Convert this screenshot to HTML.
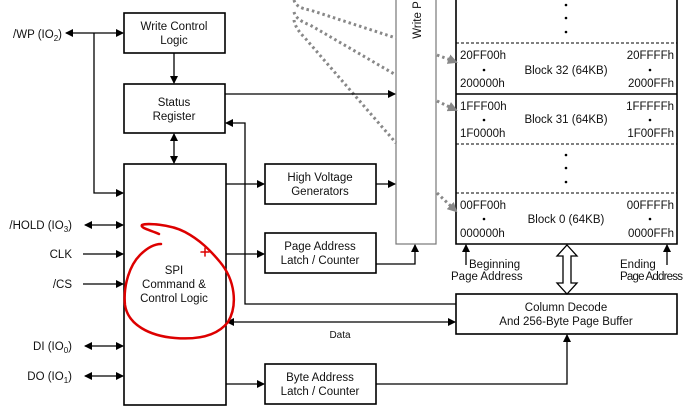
<!DOCTYPE html>
<html><head><meta charset="utf-8"><style>
body{margin:0;background:#fff}
svg{display:block;font-family:"Liberation Sans",Arial,sans-serif}
text{font-size:11.5px;fill:#111}
</style></head><body>
<svg width="687" height="411" viewBox="0 0 687 411" xmlns="http://www.w3.org/2000/svg">
<defs>
<marker id="a" markerWidth="8" markerHeight="8" refX="7" refY="4" orient="auto" markerUnits="userSpaceOnUse"><path d="M0,0 L8,4 L0,8 z" fill="#000"/></marker>
<marker id="s" markerWidth="8" markerHeight="8" refX="1" refY="4" orient="auto" markerUnits="userSpaceOnUse"><path d="M8,0 L0,4 L8,8 z" fill="#000"/></marker>
<marker id="g" markerWidth="10" markerHeight="10" refX="8" refY="5" orient="auto" markerUnits="userSpaceOnUse"><path d="M0,0 L10,5 L0,10 z" fill="#888"/></marker>
</defs>
<g fill="none" stroke="#000" stroke-width="1.6">
<rect x="124" y="13" width="101" height="40"/>
<rect x="124" y="84" width="101" height="49"/>
<rect x="124" y="164" width="102" height="241"/>
<rect x="265" y="164" width="111" height="40"/>
<rect x="265" y="233" width="111" height="40"/>
<rect x="265" y="364" width="111" height="40"/>
<rect x="456" y="294" width="221" height="40"/>
<path d="M456,-2 V244 H677 V-2"/>
<line x1="456" y1="94" x2="677" y2="94"/>
</g>
<rect x="396" y="-2" width="40" height="246" fill="none" stroke="#777" stroke-width="1.2"/>
<g stroke="#000" stroke-width="1" stroke-dasharray="3,2">
<line x1="456" y1="43" x2="677" y2="43"/><line x1="456" y1="144" x2="677" y2="144"/><line x1="456" y1="193" x2="677" y2="193"/>
</g>
<g stroke="#888" stroke-width="3" stroke-dasharray="2.5,3" fill="none">
<path d="M294,0 Q296,8 310,10 L396,38"/>
<path d="M294,12 Q296,20 310,25 L396,75"/>
<path d="M294,20 Q295,28 305,38 L396,143"/>
<path d="M437,55 L456,62" marker-end="url(#g)"/>
<path d="M437,101 L456,110" marker-end="url(#g)"/>
<path d="M437,193 L456,211" marker-end="url(#g)"/>
</g>
<g stroke="#000" stroke-width="1.3" fill="none">
<line x1="66" y1="33" x2="123" y2="33" marker-start="url(#s)" marker-end="url(#a)"/>
<path d="M94,33 V193 H123" marker-end="url(#a)"/>
<line x1="174" y1="53" x2="174" y2="83" marker-end="url(#a)"/>
<line x1="174" y1="134" x2="174" y2="163" marker-start="url(#s)" marker-end="url(#a)"/>
<line x1="225" y1="94" x2="395" y2="94" marker-end="url(#a)"/>
<path d="M456,304 H245 V123 H226" marker-end="url(#a)"/>
<line x1="226" y1="184" x2="264" y2="184" marker-end="url(#a)"/>
<line x1="376" y1="184" x2="395" y2="184" marker-end="url(#a)"/>
<line x1="226" y1="254" x2="264" y2="254" marker-end="url(#a)"/>
<path d="M376,264 H415 V245" marker-end="url(#a)"/>
<line x1="227" y1="322" x2="455" y2="322" marker-start="url(#s)" marker-end="url(#a)"/>
<line x1="226" y1="384" x2="264" y2="384" marker-end="url(#a)"/>
<path d="M376,384 H567 V335" marker-end="url(#a)"/>
<line x1="85" y1="225" x2="123" y2="225" marker-start="url(#s)" marker-end="url(#a)"/>
<line x1="83" y1="254" x2="123" y2="254" marker-end="url(#a)"/>
<line x1="83" y1="284" x2="123" y2="284" marker-end="url(#a)"/>
<line x1="85" y1="346" x2="123" y2="346" marker-start="url(#s)" marker-end="url(#a)"/>
<line x1="85" y1="376" x2="123" y2="376" marker-start="url(#s)" marker-end="url(#a)"/>
<line x1="466" y1="265" x2="466" y2="245" marker-end="url(#a)"/>
<line x1="667" y1="265" x2="667" y2="245" marker-end="url(#a)"/>
</g>
<path d="M567,245 L577,256 L571,256 L571,283 L577,283 L567,294 L557,283 L563,283 L563,256 L557,256 Z" fill="#fff" stroke="#000" stroke-width="1.3"/>
<g text-anchor="middle">
<text x="174" y="30">Write Control</text><text x="174" y="44">Logic</text>
<text x="174" y="106">Status</text><text x="174" y="120">Register</text>
<text x="174" y="274">SPI</text><text x="174" y="288">Command &amp;</text><text x="174" y="302">Control Logic</text>
<text x="320" y="181">High Voltage</text><text x="320" y="195">Generators</text>
<text x="320" y="250">Page Address</text><text x="320" y="264">Latch / Counter</text>
<text x="320" y="381">Byte Address</text><text x="320" y="395">Latch / Counter</text>
<text x="566" y="311">Column Decode</text><text x="566" y="325">And 256-Byte Page Buffer</text>
<text x="340" y="338" style="font-size:10px">Data</text>
<text x="566" y="74">Block 32 (64KB)</text>
<text x="566" y="123">Block 31 (64KB)</text>
<text x="566" y="223">Block 0 (64KB)</text>
<text x="421" y="20" transform="rotate(-90 421 20)">Write P</text>
</g>
<g>
<text x="460" y="59">20FF00h</text><text x="460" y="87">200000h</text>
<text x="460" y="110">1FFF00h</text><text x="460" y="137">1F0000h</text>
<text x="460" y="209">00FF00h</text><text x="460" y="237">000000h</text>
</g>
<g text-anchor="end">
<text x="674" y="59">20FFFFh</text><text x="674" y="87">2000FFh</text>
<text x="674" y="110">1FFFFFh</text><text x="674" y="137">1F00FFh</text>
<text x="674" y="209">00FFFFh</text><text x="674" y="237">0000FFh</text>
<text x="62" y="38">/WP (IO<tspan dy="3" style="font-size:8px">2</tspan><tspan dy="-3">)</tspan></text>
<text x="72" y="229">/HOLD (IO<tspan dy="3" style="font-size:8px">3</tspan><tspan dy="-3">)</tspan></text>
<text x="72" y="258">CLK</text>
<text x="72" y="288">/CS</text>
<text x="72" y="350">DI (IO<tspan dy="3" style="font-size:8px">0</tspan><tspan dy="-3">)</tspan></text>
<text x="72" y="380">DO (IO<tspan dy="3" style="font-size:8px">1</tspan><tspan dy="-3">)</tspan></text>
</g>
<g style="font-size:10px">
<text x="469" y="268">Beginning</text><text x="451" y="280">Page Address</text>
<text x="620" y="268">Ending</text><text x="620" y="280" textLength="63">Page Address</text>
</g>
<g fill="#000">
<circle cx="566" cy="5" r="1.3"/><circle cx="566" cy="18" r="1.3"/><circle cx="566" cy="32" r="1.3"/>
<circle cx="484" cy="70" r="1.3"/><circle cx="650" cy="70" r="1.3"/>
<circle cx="484" cy="120" r="1.3"/><circle cx="650" cy="120" r="1.3"/>
<circle cx="566" cy="155" r="1.3"/><circle cx="566" cy="168" r="1.3"/><circle cx="566" cy="182" r="1.3"/>
<circle cx="484" cy="219" r="1.3"/><circle cx="650" cy="219" r="1.3"/>
</g>
<g fill="none" stroke="#d00" stroke-width="2.5" stroke-linecap="round">
<path d="M159,234 C150,230 140,228 142,225 C146,223 170,224 185,232 C200,240 210,250 220,262 C235,280 238,305 228,322 C218,335 200,340 175,338 C150,336 128,325 125,305 C123,285 130,265 140,255 C148,247 155,244 161,244"/>
<path d="M201,252 L209,252 M205,248 L205,256" stroke-width="1.5"/>
</g>
</svg>
</body></html>
